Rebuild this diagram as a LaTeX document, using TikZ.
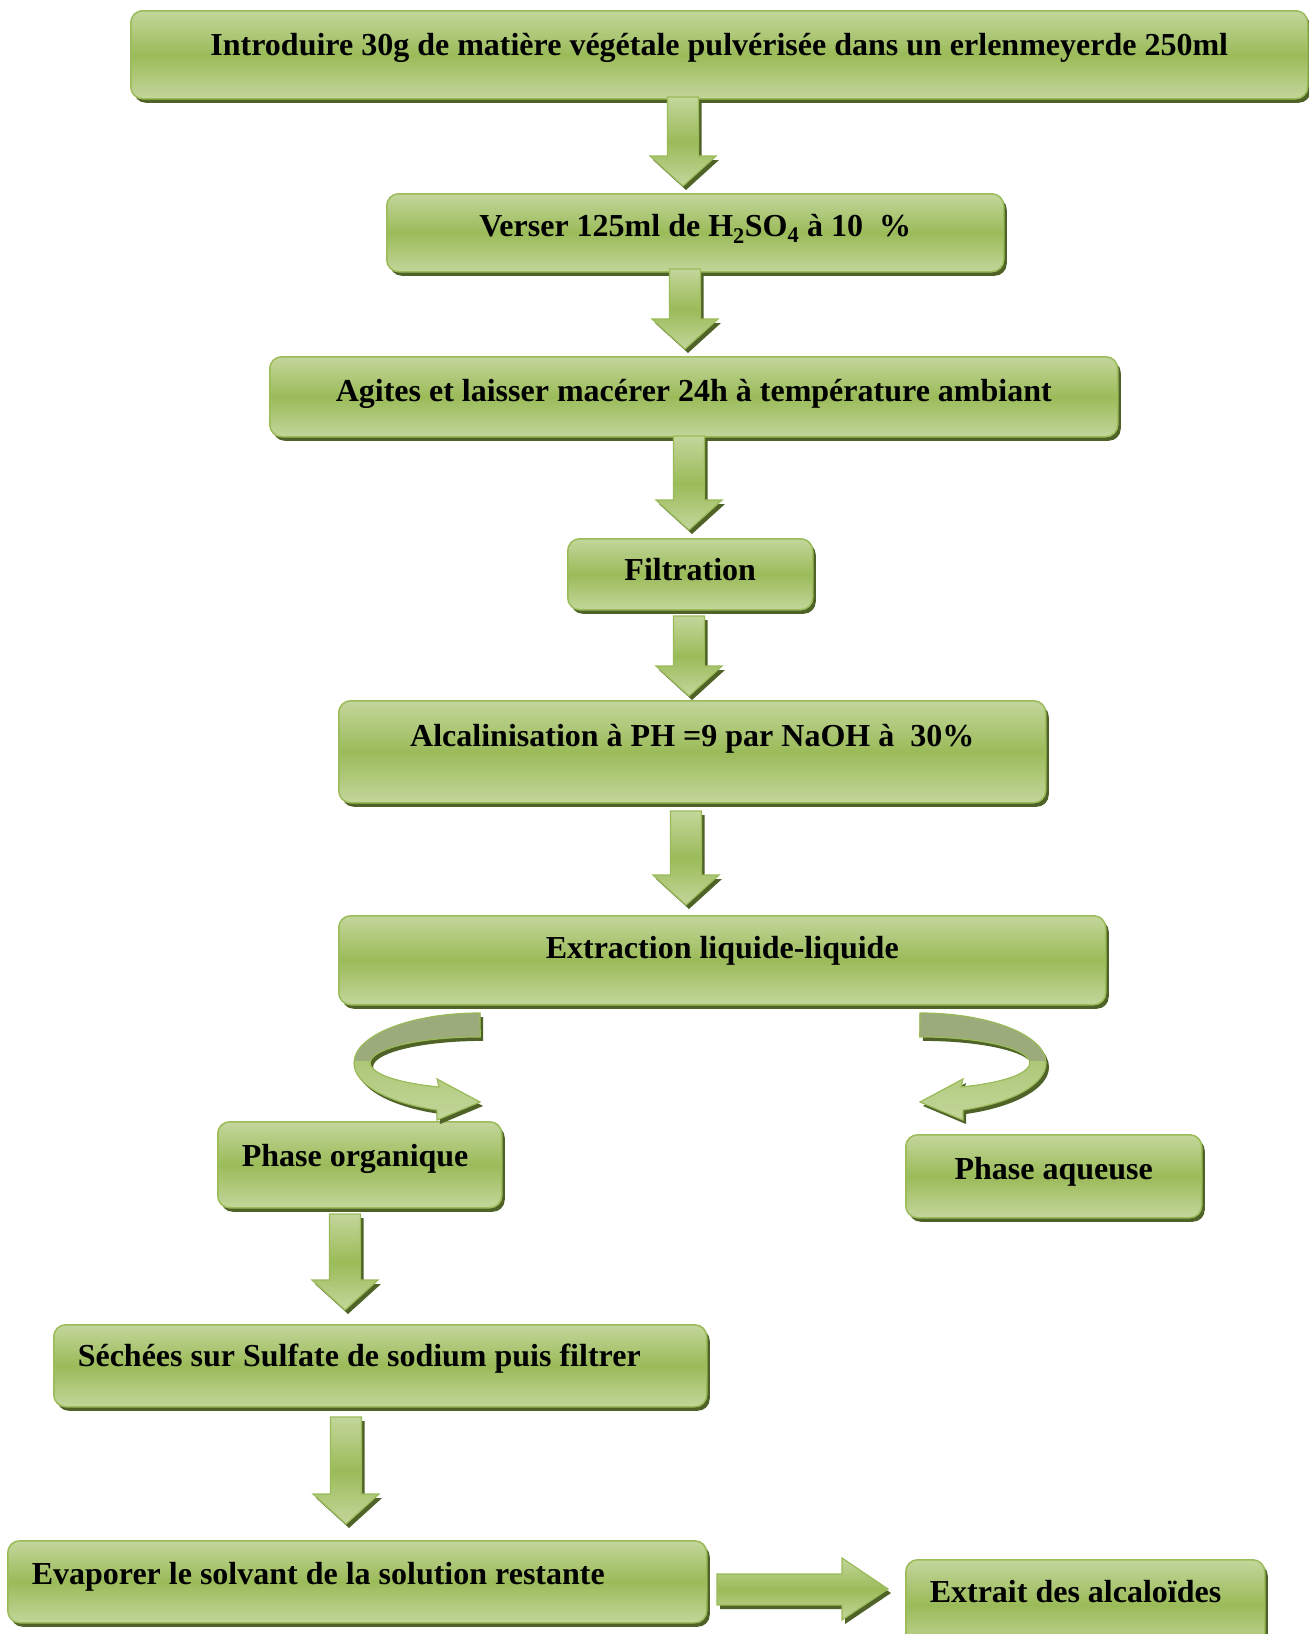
\documentclass[tikz,border=0pt]{standalone}
\usepackage{fontspec}
\setmainfont{Liberation Serif}
\usetikzlibrary{shadows}
\definecolor{lg}{HTML}{C3D69B}
\definecolor{mg}{HTML}{9BBB59}
\definecolor{bd}{HTML}{9BBB59}
\definecolor{sh}{HTML}{4F6228}
\definecolor{gy}{HTML}{9CAB7B}
\tikzset{
  shad/.style={drop shadow={shadow xshift=3pt, shadow yshift=-4pt, fill=sh, opacity=1}},
  box/.style={shad, draw=bd, line width=1.5pt, rounded corners=12pt,
    top color=lg, bottom color=lg, middle color=mg, anchor=north west,
    inner sep=0pt, font=\fontsize{32}{38}\selectfont\bfseries, text=black},
  lbox/.style={box, inner xsep=24pt},
  blk/.style={shad, draw=bd, line width=1.2pt, top color=lg, bottom color=lg, middle color=mg},
}
\newcommand\blkdown[3]{\path[blk] ({#1-15.5},#2) -- ({#1+15.5},#2) -- ({#1+15.5},{#3-30}) -- ({#1+33},{#3-30}) -- (#1,#3) -- ({#1-33},{#3-30}) -- ({#1-15.5},{#3-30}) -- cycle;}
\def\lcurve{(480,1013) arc[start angle=270, end angle=110, x radius=126, y radius=50] -- (437,1120) -- (480,1102) -- (437,1079) -- (439,1087) arc[start angle=112, end angle=270, x radius=110, y radius=26] -- cycle}
\def\rcurve{(920,1013) arc[start angle=-90, end angle=70, x radius=126, y radius=50] -- (963,1120) -- (920,1102) -- (963,1079) -- (961,1087) arc[start angle=68, end angle=-90, x radius=110, y radius=26] -- cycle}
\begin{document}
\begin{tikzpicture}[x=1pt,y=-1pt]
\useasboundingbox (0,0) rectangle (1309,1634);
\fill[white] (0,0) rectangle (1309,1634);

% boxes
\node[box, minimum width=1177pt, text height=45pt, text depth=43pt] (b1) at (130,10)
  {Introduire 30g de matière végétale pulvérisée dans un erlenmeyerde 250ml};
\node[box, minimum width=617pt, text height=43pt, text depth=35pt] (b2) at (386,193)
  {Verser 125ml de H\textsubscript{2}SO\textsubscript{4} à 10~~\%};
\node[box, minimum width=848pt, text height=45pt, text depth=35pt] (b3) at (269,356)
  {Agites et laisser macérer 24h à température ambiant};
\node[box, minimum width=245pt, text height=42pt, text depth=29pt] (b4) at (567,538)
  {Filtration};
\node[box, minimum width=707pt, text height=46pt, text depth=56pt] (b5) at (338,700)
  {Alcalinisation à PH =9 par NaOH à~~30\%};
\node[box, minimum width=767pt, text height=43pt, text depth=46pt] (b6) at (338,915)
  {Extraction liquide-liquide};
\node[lbox, text height=45pt, text depth=41pt] (b7) at (217,1121)
  {\makebox[236pt][l]{Phase organique}};
\node[box, minimum width=296pt, text height=45pt, text depth=38pt] (b8) at (905,1134)
  {Phase aqueuse};
\node[lbox, text height=42pt, text depth=40pt] (b9) at (53,1324)
  {\makebox[605pt][l]{Séchées sur Sulfate de sodium puis filtrer}};
\node[lbox, text height=44pt, text depth=38pt] (b10) at (7,1540)
  {\makebox[651pt][l]{Evaporer le solvant de la solution restante}};
\node[lbox, text height=43pt, text depth=47pt] (b11) at (905,1559)
  {\makebox[311pt][l]{Extrait des alcaloïdes}};

% straight block arrows
\blkdown{683}{97}{186}
\blkdown{685}{269}{349}
\blkdown{689}{436}{530}
\blkdown{689}{616}{696}
\blkdown{686}{811}{905}
\blkdown{345}{1214}{1310}
\blkdown{346}{1417}{1524}
\path[blk] (717,1574) -- (842,1574) -- (842,1558) -- (888,1589) -- (842,1620) -- (842,1605) -- (717,1605) -- cycle;

% curved arrows
\foreach \cv in {\lcurve,\rcurve}{
  \fill[sh, xshift=3pt, yshift=-4pt] \cv;
  \fill[top color=mg, bottom color=lg] \cv;
  \begin{scope}
    \clip (0,0) rectangle (1309,1060);
    \fill[gy] \cv;
  \end{scope}
  \draw[bd, line width=1.2pt] \cv;
}
\end{tikzpicture}
\end{document}
